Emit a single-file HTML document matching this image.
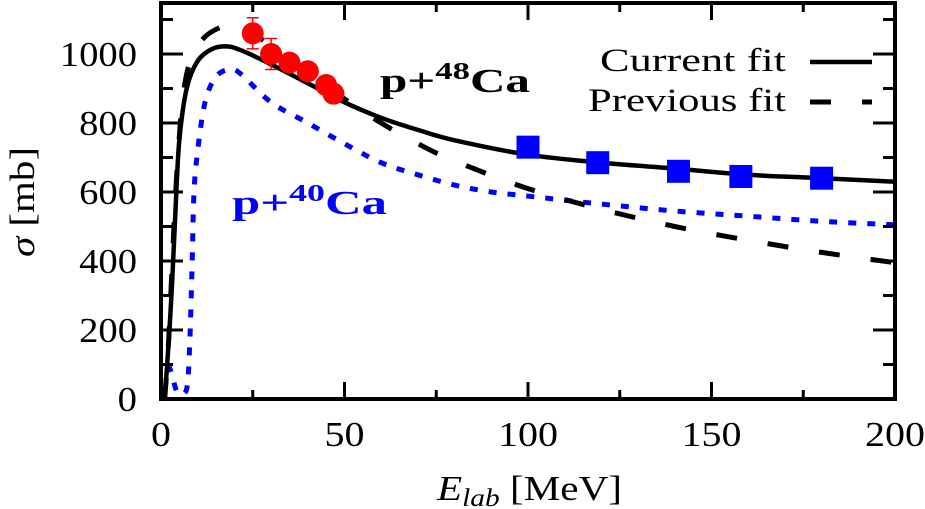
<!DOCTYPE html>
<html><head><meta charset="utf-8"><style>
body{margin:0;background:#fff}
svg{display:block;font-family:"Liberation Serif",serif}
</style></head><body>
<svg width="925" height="509" viewBox="0 0 925 509">
<g id="plot"></g>
<g id="axes"></g>
</svg>
<script>
const xTicks=[0,50,100,150,200];
const yTicks=[0,200,400,600,800,1000];
const curE=[1,2,3,4,5,7,10,14,18,22,30,40,50,60,70,80,100,120,140,160,180,200];
const curS=[0,150,330,560,750,900,980,1015,1022,1010,970,915,860,815,780,750,708,685,668,650,640,630];
const prevE=[1,2,3,4,5,6,8,12,18,22,30,40,50,60,70,80,100,120,140,160,180,200];
const prevS=[0,150,380,600,760,880,980,1050,1085,1090,1020,945,870,800,740,690,610,550,500,460,425,395];
const ca40E=[2,3,4,5,7,7.8,8.5,9,10,12,15,19,22,30,40,50,60,70,80,90,100,120,140,160,180,200];
const ca40S=[100,70,30,15,30,150,400,600,720,860,935,955,940,860,800,740,685,650,620,600,588,565,545,530,515,505];
const redE=[25,30,35,40,45,47];
const redS=[1060,1000,975,950,910,885];
const redErr=[45,45,20,15,20,15];
const blueE=[100,119,141,158,180];
const blueS=[730,685,660,645,640];

const X0=161,X1=895,Y0=399,Y1=54;
const sx=v=>X0+(X1-X0)*v/200;
const sy=v=>Y0-(Y0-Y1)*v/1000;
const NS="http://www.w3.org/2000/svg";
const plot=document.getElementById('plot'),axes=document.getElementById('axes');
function mk(tag,attrs,parent){const e=document.createElementNS(NS,tag);for(const k in attrs)e.setAttribute(k,attrs[k]);parent.appendChild(e);return e;}
function path(E,S){
  const P=E.map((e,i)=>[sx(e),sy(S[i])]);
  let d='M'+P[0][0].toFixed(1)+','+P[0][1].toFixed(1);
  for(let i=0;i<P.length-1;i++){
    const p0=P[Math.max(0,i-1)],p1=P[i],p2=P[i+1],p3=P[Math.min(P.length-1,i+2)];
    const c1=[p1[0]+(p2[0]-p0[0])/6,p1[1]+(p2[1]-p0[1])/6];
    const c2=[p2[0]-(p3[0]-p1[0])/6,p2[1]-(p3[1]-p1[1])/6];
    d+='C'+c1.map(v=>v.toFixed(1))+' '+c2.map(v=>v.toFixed(1))+' '+p2.map(v=>v.toFixed(1));
  }
  return d;
}

let p=mk('path',{d:path(ca40E,ca40S),fill:'none',stroke:'#0000ff','stroke-width':5,'stroke-dasharray':'8,11'},plot);


p=mk('path',{d:path(prevE,prevS),fill:'none',stroke:'#000','stroke-width':5,'stroke-dasharray':'21,31'},plot);


p=mk('path',{d:path(curE,curS),fill:'none',stroke:'#000','stroke-width':4.5},plot);



redE.forEach((e,i)=>{
  const g=mk('g',{},plot);
  
  
  const x=sx(e),ya=sy(redS[i]+redErr[i]),yb=sy(redS[i]-redErr[i]);
  mk('line',{x1:x,x2:x,y1:ya,y2:yb,stroke:'#f00','stroke-width':1.5},g);
  mk('line',{x1:x-6,x2:x+6,y1:ya,y2:ya,stroke:'#f00','stroke-width':1.5},g);
  mk('line',{x1:x-6,x2:x+6,y1:yb,y2:yb,stroke:'#f00','stroke-width':1.5},g);
  mk('circle',{cx:x,cy:sy(redS[i]),r:11,fill:'#f00'},g);
});
blueE.forEach((e,i)=>{
  const r=mk('rect',{x:sx(e)-11.5,y:sy(blueS[i])-11.5,width:23,height:23,fill:'#0000ff'},plot);
  
  
});

let f=mk('rect',{x:X0,y:3,width:X1-X0,height:Y0-3,fill:'none',stroke:'#000','stroke-width':4},axes);


for(let v=0;v<=200;v+=25){
  const L=v%50===0?17:9;
  mk('line',{x1:sx(v),x2:sx(v),y1:Y0,y2:Y0-L,stroke:'#000','stroke-width':3},axes);
  mk('line',{x1:sx(v),x2:sx(v),y1:3,y2:3+L,stroke:'#000','stroke-width':3},axes);
}
for(let v=0;v<=1100;v+=100){
  const L=v%200===0?22:12;
  mk('line',{x1:X0,x2:X0+L,y1:sy(v),y2:sy(v),stroke:'#000','stroke-width':3},axes);
  mk('line',{x1:X1,x2:X1-L,y1:sy(v),y2:sy(v),stroke:'#000','stroke-width':3},axes);
}
xTicks.forEach(v=>{const s=String(v);const t=mk('text',{x:sx(v),y:446,'font-size':35,'text-anchor':'middle',textLength:s.length*20,lengthAdjust:'spacingAndGlyphs'},axes);t.textContent=s;
  
  });
yTicks.forEach(v=>{const s=String(v);const t=mk('text',{x:137-s.length*19.3,y:sy(v)+12,'font-size':35,textLength:s.length*19.3,lengthAdjust:'spacingAndGlyphs'},axes);t.textContent=s;
  
  });
</script>
<svg style="position:absolute;left:0;top:0" width="925" height="509">
<g font-family="Liberation Serif,serif">
<text x="437" y="500" font-size="35" textLength="185" lengthAdjust="spacingAndGlyphs"><tspan font-style="italic">E</tspan><tspan font-style="italic" font-size="25" dy="6">lab</tspan><tspan dy="-6"> [MeV]</tspan></text>
<text transform="translate(34,257) rotate(-90)" font-size="35" textLength="110" lengthAdjust="spacingAndGlyphs"><tspan font-style="italic">σ</tspan> [mb]</text>
<text x="600" y="71" font-size="33" textLength="186" lengthAdjust="spacingAndGlyphs">Current fit</text>
<line x1="810" x2="872" y1="62" y2="62" stroke="#000" stroke-width="4.5"/>
<text x="588" y="111" font-size="33" textLength="198" lengthAdjust="spacingAndGlyphs">Previous fit</text>
<line x1="810" x2="872" y1="102" y2="102" stroke="#000" stroke-width="5" stroke-dasharray="21,31"/>
<text x="380" y="92" font-size="34" font-weight="bold" textLength="150" lengthAdjust="spacingAndGlyphs">p+<tspan font-size="24" dy="-13">48</tspan><tspan dy="13">Ca</tspan></text>
<text x="232" y="214" font-size="34" font-weight="bold" fill="#0000ff" textLength="155" lengthAdjust="spacingAndGlyphs">p+<tspan font-size="24" dy="-13">40</tspan><tspan dy="13">Ca</tspan></text>
</g></svg>
</body></html>
